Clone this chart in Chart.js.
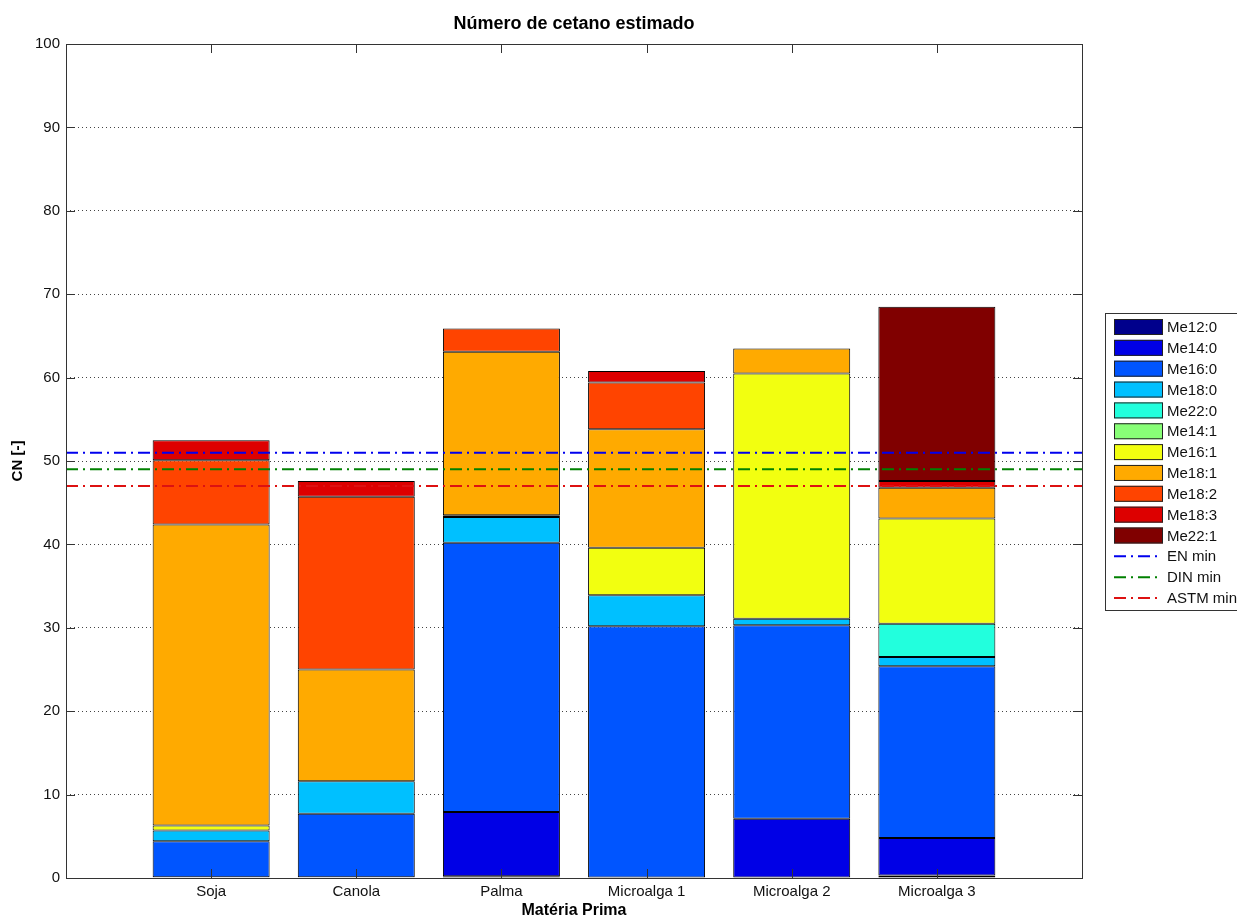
<!DOCTYPE html>
<html>
<head>
<meta charset="utf-8">
<script src="https://cdn.jsdelivr.net/npm/chart.js@4"></script>
<style>
  html, body { margin: 0; padding: 0; background: #fff; }
  #wrap { width: 1237px; height: 918px; position: relative; }
</style>
</head>
<body>
<div id="wrap"><canvas id="chart-canvas"></canvas></div>
<script>
// categories (feedstocks)
const categories = ['Soja', 'Canola', 'Palma', 'Microalga 1', 'Microalga 2', 'Microalga 3'];

// contribution of each methyl ester to the cetane number
const me12_0 = [0, 0, 0.2, 0, 0, 0.3];
const me14_0 = [0.1, 0.1, 7.7, 0, 7.1, 4.5];
const me16_0 = [4.3, 7.6, 32.3, 30.2, 23.2, 20.6];
const me18_0 = [1.3, 3.9, 3.1, 3.7, 0.8, 1.1];
const me22_0 = [0, 0, 0, 0, 0, 4.0];
const me14_1 = [0, 0, 0, 0, 0, 0];
const me16_1 = [0.6, 0, 0.2, 5.7, 29.4, 12.6];
const me18_1 = [36.1, 13.4, 19.6, 14.2, 3.0, 3.7];
const me18_2 = [7.7, 20.7, 2.8, 5.6, 0, 0];
const me18_3 = [2.4, 1.9, 0, 1.4, 0, 0.8];
const me22_1 = [0, 0, 0, 0, 0, 20.9];

// minimum limits
const enMin = 51;
const dinMin = 49;
const astmMin = 47;

const yTicks = [0, 10, 20, 30, 40, 50, 60, 70, 80, 90, 100];

const series = [
  { label: 'Me12:0', data: me12_0, color: '#00008c' },
  { label: 'Me14:0', data: me14_0, color: '#0000e6' },
  { label: 'Me16:0', data: me16_0, color: '#0055ff' },
  { label: 'Me18:0', data: me18_0, color: '#00c0ff' },
  { label: 'Me22:0', data: me22_0, color: '#22ffdd' },
  { label: 'Me14:1', data: me14_1, color: '#88ff77' },
  { label: 'Me16:1', data: me16_1, color: '#f2ff10' },
  { label: 'Me18:1', data: me18_1, color: '#ffaa00' },
  { label: 'Me18:2', data: me18_2, color: '#ff4400' },
  { label: 'Me18:3', data: me18_3, color: '#dd0000' },
  { label: 'Me22:1', data: me22_1, color: '#800000' }
];

const limits = [
  { label: 'EN min', value: enMin, color: '#0000ee' },
  { label: 'DIN min', value: dinMin, color: '#008000' },
  { label: 'ASTM min', value: astmMin, color: '#dd1111' }
];

// one empty slot on each side so the bars sit at 1..6 of a 0..7 axis
const labels = [''].concat(categories, ['']);

const datasets = series.map(s => ({
  type: 'bar',
  label: s.label,
  data: [null].concat(s.data, [null]),
  backgroundColor: s.color,
  borderColor: '#000',
  borderWidth: 1,
  borderSkipped: false,
  stack: 'fames',
  order: 2,
  categoryPercentage: 1,
  barPercentage: 0.806
}));

limits.forEach(l => {
  datasets.push({
    type: 'line',
    label: l.label,
    data: labels.map(() => l.value),
    borderColor: l.color,
    borderWidth: 2,
    borderDash: [12, 5, 2, 5],
    pointRadius: 0,
    fill: false,
    stack: l.label,
    order: 0
  });
});

const FONT = '"Liberation Sans", Arial, sans-serif';

// frame, inward tick marks, title and legend, drawn like the original figure
const matlabLook = {
  id: 'matlabLook',
  afterDraw(chart) {
    const ctx = chart.ctx;
    const a = chart.chartArea;
    const xs = chart.scales.x;
    const ys = chart.scales.y;
    ctx.save();

    ctx.strokeStyle = '#333';
    ctx.lineWidth = 1;
    ctx.setLineDash([]);
    ctx.strokeRect(Math.round(a.left) + 0.5, Math.round(a.top) + 0.5,
      Math.round(a.right - a.left), Math.round(a.bottom - a.top));

    ctx.beginPath();
    for (let i = 1; i <= categories.length; i++) {
      const px = Math.round(xs.getPixelForValue(i)) + 0.5;
      ctx.moveTo(px, a.bottom); ctx.lineTo(px, a.bottom - 9);
      ctx.moveTo(px, a.top); ctx.lineTo(px, a.top + 9);
    }
    yTicks.forEach(v => {
      const py = Math.round(ys.getPixelForValue(v)) + 0.5;
      ctx.moveTo(a.left, py); ctx.lineTo(a.left + 9, py);
      ctx.moveTo(a.right, py); ctx.lineTo(a.right - 9, py);
    });
    ctx.stroke();

    // title
    ctx.fillStyle = '#000';
    ctx.font = 'bold 18px ' + FONT;
    ctx.textAlign = 'center';
    ctx.textBaseline = 'middle';
    ctx.fillText('Número de cetano estimado', (a.left + a.right) / 2, 24);

    // legend
    const lx = 1105, ly = 313, lw = 145, lh = 297;
    ctx.fillStyle = '#fff';
    ctx.fillRect(lx, ly, lw, lh);
    ctx.strokeStyle = '#333';
    ctx.strokeRect(lx + 0.5, ly + 0.5, lw, lh);
    ctx.font = '15px ' + FONT;
    ctx.textAlign = 'left';
    const step = 20.85;
    let y = 327;
    series.forEach(s => {
      ctx.fillStyle = s.color;
      ctx.fillRect(1114, y - 8, 49, 16);
      ctx.strokeStyle = '#222';
      ctx.strokeRect(1114.5, y - 7.5, 48, 15);
      ctx.fillStyle = '#111';
      ctx.fillText(s.label, 1167, y + 1);
      y += step;
    });
    limits.forEach(l => {
      ctx.strokeStyle = l.color;
      ctx.lineWidth = 2;
      ctx.setLineDash([12, 5, 2, 5]);
      ctx.beginPath();
      ctx.moveTo(1114, y); ctx.lineTo(1162, y);
      ctx.stroke();
      ctx.setLineDash([]);
      ctx.lineWidth = 1;
      ctx.fillStyle = '#111';
      ctx.fillText(l.label, 1167, y + 1);
      y += step;
    });
    ctx.restore();
  }
};

const canvas = document.getElementById('chart-canvas');
new Chart(canvas.getContext('2d'), {
  type: 'bar',
  data: { labels: labels, datasets: datasets },
  plugins: [matlabLook],
  options: {
    responsive: true,
    maintainAspectRatio: false,
    animation: false,
    layout: { padding: { top: 44, right: 155, bottom: 0, left: 0 } },
    plugins: {
      legend: { display: false },
      title: { display: false },
      tooltip: { enabled: false }
    },
    scales: {
      x: {
        type: 'category',
        offset: false,
        stacked: true,
        grid: { display: false, drawTicks: false },
        border: { display: false },
        ticks: {
          padding: 5,
          color: '#111',
          font: { family: FONT, size: 15 },
          autoSkip: false,
          maxRotation: 0
        },
        title: {
          display: true,
          text: 'Matéria Prima',
          color: '#000',
          font: { family: FONT, size: 16, weight: 'bold' },
          padding: { top: 0, bottom: -2 }
        },
        afterFit: scale => { scale.height = 40; }
      },
      y: {
        stacked: true,
        min: 0,
        max: 100,
        afterBuildTicks: scale => { scale.ticks = yTicks.map(v => ({ value: v })); },
        grid: {
          color: '#444',
          lineWidth: 1,
          tickLength: 0,
          drawTicks: false
        },
        border: { display: false, dash: [1, 3] },
        ticks: {
          padding: 6,
          color: '#111',
          font: { family: FONT, size: 15 }
        },
        title: {
          display: true,
          text: 'CN [-]',
          color: '#000',
          font: { family: FONT, size: 15, weight: 'bold' },
          padding: { top: 9, bottom: 0 }
        },
        afterFit: scale => { scale.width = 66; }
      }
    }
  }
});
</script>
</body>
</html>
